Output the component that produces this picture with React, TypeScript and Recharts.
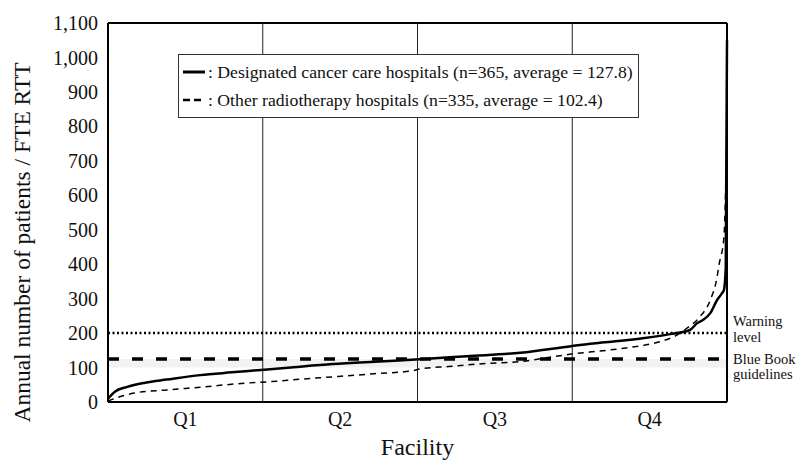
import React from "react";
import {
  ComposedChart,
  Line,
  XAxis,
  YAxis,
  ReferenceLine,
  ReferenceArea,
  Legend,
} from "recharts";

const FONT = '"Liberation Serif", "DejaVu Serif", serif';

// facility position (percentile) and patients / FTE RTT
const designatedPct = [0, 1.1, 3.1, 6, 9.5, 14.9, 20, 24.7, 30, 36.3, 43, 50.4, 58, 66.6, 74.8, 78.4, 82, 86.4, 90.8, 94.0, 95.2, 96.1, 97.3, 98.4, 99.2, 99.5, 99.8, 100];
const designatedVal = [10, 30, 44, 56, 65, 78, 86, 93, 101, 110, 117, 124, 133, 143, 162, 170, 176, 185, 197, 209, 229, 238, 258, 296, 316, 325, 390, 1050];

const otherPct = [0, 1.9, 4.2, 9.5, 14.9, 22.4, 26.2, 31, 36.3, 43, 49.3, 50.4, 55, 61.2, 66.6, 70, 74.8, 80.0, 83.7, 89.1, 91.9, 93.5, 95.6, 97.3, 98.4, 98.7, 99.5, 100];
const otherVal = [3, 15, 26, 35, 43, 55, 59, 66, 73, 82, 91, 96, 103, 112, 117, 126, 139, 149, 157, 175, 194, 214, 247, 296, 363, 397, 478, 800];

const yTicks = [0, 100, 200, 300, 400, 500, 600, 700, 800, 900, 1000, 1100];
const quartileTicks = [12.5, 37.5, 62.5, 87.5];
const quartileLabels = ["Q1", "Q2", "Q3", "Q4"];
const quartileBounds = [25, 50, 75];

const warningLevel = 200;
const blueBook = 125;

const designated = designatedPct.map((p, i) => ({ x: p, v: designatedVal[i] }));
const other = otherPct.map((p, i) => ({ x: p, v: otherVal[i] }));

function SideLabel({ viewBox, lines, dys }: any) {
  if (!viewBox) return null;
  const x = viewBox.x + viewBox.width + 6;
  return (
    <text x={x} y={viewBox.y} fontFamily={FONT} fontSize={14.5} fill="#111">
      {lines.map((l: string, i: number) => (
        <tspan key={i} x={x} y={viewBox.y + dys[i]}>
          {l}
        </tspan>
      ))}
    </text>
  );
}

function LegendBox() {
  const row = (dash: string | undefined, label: string) => (
    <div style={{ display: "flex", alignItems: "center", height: 28 }}>
      <svg width={24} height={10}>
        <line x1={1} y1={5} x2={23} y2={5} stroke="#000" strokeWidth={dash ? 2.5 : 3} strokeDasharray={dash} />
      </svg>
      <span style={{ marginLeft: 2, fontFamily: FONT }}>: {label}</span>
    </div>
  );
  return (
    <div
      style={{
        border: "1px solid #333",
        background: "#fff",
        padding: "3px 5px 3px 3px",
        fontFamily: FONT,
        fontSize: 17.7,
        color: "#111",
        whiteSpace: "nowrap",
      }}
    >
      {row(undefined, "Designated cancer care hospitals (n=365, average = 127.8)")}
      {row("7 4", "Other radiotherapy hospitals (n=335, average = 102.4)")}
    </div>
  );
}

export default function App() {
  return (
    <div style={{ position: "absolute", left: 0, top: 0, background: "#fff" }}>
      <ComposedChart width={805} height={461} margin={{ top: 23, right: 78, left: 0, bottom: 0 }}>
        <XAxis
          type="number"
          dataKey="x"
          domain={[0, 100]}
          ticks={quartileTicks}
          tickFormatter={(v: number) => quartileLabels[quartileTicks.indexOf(v)]}
          allowDuplicatedCategory={false}
          height={59}
          tickLine={false}
          tickMargin={4}
          axisLine={{ stroke: "#000", strokeWidth: 2 }}
          tick={{ fontFamily: FONT, fontSize: 20, fill: "#111" }}
          label={({ viewBox }: any) => (
            <text
              x={viewBox.x + viewBox.width / 2}
              y={viewBox.y + 53}
              textAnchor="middle"
              fontFamily={FONT}
              fontSize={24}
              fill="#111"
            >
              Facility
            </text>
          )}
        />
        <YAxis
          type="number"
          dataKey="v"
          domain={[0, 1100]}
          ticks={yTicks}
          width={108}
          tickLine={false}
          tickMargin={4}
          axisLine={{ stroke: "#000", strokeWidth: 2 }}
          tickFormatter={(v: number) => v.toLocaleString("en-US")}
          tick={{ fontFamily: FONT, fontSize: 20, fill: "#111" }}
          label={({ viewBox }: any) => {
            const cx = viewBox.x + 22;
            const cy = viewBox.y + viewBox.height / 2 + 30;
            return (
              <text
                x={cx}
                y={cy}
                transform={`rotate(-90, ${cx}, ${cy})`}
                textAnchor="middle"
                dominantBaseline="central"
                fontFamily={FONT}
                fontSize={23.5}
                fill="#111"
              >
                Annual number of patients / FTE RTT
              </text>
            );
          }}
        />
        <ReferenceArea y1={100} y2={125} fill="#e6e6e6" fillOpacity={0.5} stroke="none" />
        <ReferenceLine y={1100} stroke="#000" strokeWidth={2} />
        <ReferenceLine x={100} stroke="#000" strokeWidth={2} />
        {quartileBounds.map((b) => (
          <ReferenceLine key={b} x={b} stroke="#222" strokeWidth={1} />
        ))}
        <ReferenceLine
          y={warningLevel}
          stroke="#000"
          strokeWidth={2.5}
          strokeDasharray="2 2.5"
          label={(p: any) => <SideLabel {...p} lines={["Warning", "level"]} dys={[-7, 9]} />}
        />
        <ReferenceLine
          y={blueBook}
          stroke="#000"
          strokeWidth={3.5}
          strokeDasharray="11 13"
          label={(p: any) => <SideLabel {...p} lines={["Blue Book", "guidelines"]} dys={[5, 20]} />}
        />
        <Line
          data={other}
          dataKey="v"
          type="monotone"
          stroke="#000"
          strokeWidth={1.5}
          strokeDasharray="6 5"
          dot={false}
          isAnimationActive={false}
          name="Other radiotherapy hospitals"
        />
        <Line
          data={designated}
          dataKey="v"
          type="monotone"
          stroke="#000"
          strokeWidth={2.5}
          dot={false}
          isAnimationActive={false}
          name="Designated cancer care hospitals"
        />
        <Legend
          layout="vertical"
          align="center"
          verticalAlign="middle"
          content={() => <LegendBox />}
          wrapperStyle={{ top: 54, left: 178, width: "auto", height: "auto" }}
        />
      </ComposedChart>
    </div>
  );
}
